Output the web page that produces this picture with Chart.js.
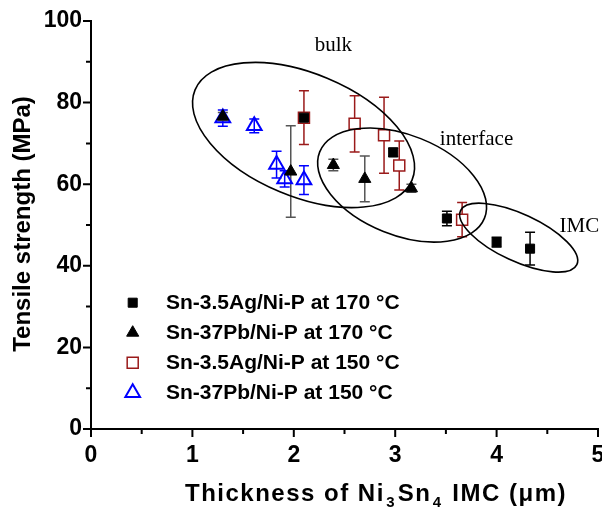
<!DOCTYPE html>
<html>
<head>
<meta charset="utf-8">
<script src="https://cdn.jsdelivr.net/npm/chart.js@4.4.0/dist/chart.umd.min.js"></script>
<style>
  html, body { margin: 0; padding: 0; background: #fff; }
  #wrap { width: 602px; height: 510px; }
</style>
</head>
<body>
<div id="wrap"><canvas id="c" width="602" height="510"></canvas></div>
<script>
// Sn-3.5Ag/Ni-P at 170 C
var ag170X   = [2.10, 2.98, 3.51, 4.00, 4.33];
var ag170Y   = [76.3, 67.8, 51.6, 45.8, 44.2];
var ag170Err = [1.0, 1.0, 1.8, 1.2, 4.0];

// Sn-37Pb/Ni-P at 170 C
var pb170X   = [1.30, 1.97, 2.39, 2.70, 3.16];
var pb170Y   = [76.6, 63.1, 64.7, 61.3, 59.0];
var pb170Err = [1.0, 11.2, 1.4, 5.6, 1.0];

// Sn-3.5Ag/Ni-P at 150 C
var ag150X   = [2.10, 2.60, 2.89, 3.04, 3.66];
var ag150Y   = [76.3, 74.8, 72.0, 64.6, 51.3];
var ag150Err = [6.6, 6.9, 9.3, 6.0, 4.2];

// Sn-37Pb/Ni-P at 150 C
var pb150X   = [1.30, 1.61, 1.83, 1.91, 2.10];
var pb150Y   = [76.2, 74.3, 64.8, 61.3, 61.0];
var pb150Err = [2.0, 1.7, 3.3, 2.0, 3.5];

var seriesNames = [
  'Sn-3.5Ag/Ni-P at 170 \u00B0C',
  'Sn-37Pb/Ni-P at 170 \u00B0C',
  'Sn-3.5Ag/Ni-P at 150 \u00B0C',
  'Sn-37Pb/Ni-P at 150 \u00B0C'
];

var xTicks = [0, 1, 2, 3, 4, 5];
var yTicks = [0, 20, 40, 60, 80, 100];

// region ellipses (center in data units, radii in px, tilt in degrees)
var regionNames = ['bulk', 'interface', 'IMC'];
var regionCx = [2.096, 3.068, 4.218];
var regionCy = [72.06, 59.8, 46.9];
var regionRa = [117.5, 88.8, 64.1];
var regionRb = [61.5, 50.0, 23.6];
var regionTilt = [22.6, 21.9, 24.9];
var labelX = [2.39, 3.44, 4.62];
var labelY = [92.6, 69.6, 48.3];
var labelAlign = ['center', 'left', 'left'];

function pts(xs, ys) {
  return xs.map(function(x, i) { return { x: x, y: ys[i] }; });
}

var DARKRED = '#9a1a1a';
var BLUE = '#0000ff';

// little marker drawer, used for the legend
function marker(ctx, ds, x, y) {
  var r = ds.pointRadius;
  ctx.save();
  ctx.beginPath();
  if (ds.pointStyle === 'rect') {
    var h = r * Math.SQRT1_2;
    ctx.rect(x - h, y - h, 2 * h, 2 * h);
  } else {
    ctx.moveTo(x, y - r);
    ctx.lineTo(x + r * Math.sin(Math.PI / 3), y + r / 2);
    ctx.lineTo(x - r * Math.sin(Math.PI / 3), y + r / 2);
    ctx.closePath();
  }
  ctx.fillStyle = ds.pointBackgroundColor;
  ctx.fill();
  ctx.lineWidth = ds.pointBorderWidth;
  ctx.strokeStyle = ds.pointBorderColor;
  ctx.stroke();
  ctx.restore();
}

var decorPlugin = {
  id: 'decor',
  beforeDatasetsDraw: function(chart) {
    var ctx = chart.ctx, xs = chart.scales.x, ys = chart.scales.y;
    for (var d = chart.data.datasets.length - 1; d >= 0; d--) {
      var ds = chart.data.datasets[d];
      ctx.save();
      ctx.strokeStyle = ds.errColor;
      ctx.lineWidth = 1.5;
      ds.data.forEach(function(p, i) {
        var px = xs.getPixelForValue(p.x);
        var t = ys.getPixelForValue(p.y + ds.err[i]);
        var b = ys.getPixelForValue(p.y - ds.err[i]);
        ctx.beginPath();
        ctx.moveTo(px, t); ctx.lineTo(px, b);
        ctx.moveTo(px - 5, t); ctx.lineTo(px + 5, t);
        ctx.moveTo(px - 5, b); ctx.lineTo(px + 5, b);
        ctx.stroke();
      });
      ctx.restore();
    }
  },
  afterDraw: function(chart) {
    var ctx = chart.ctx, xs = chart.scales.x, ys = chart.scales.y;
    var ca = chart.chartArea;
    ctx.save();

    // ticks (major + minor), outside
    ctx.strokeStyle = '#000';
    ctx.lineWidth = 2;
    ctx.beginPath();
    for (var v = 0; v <= 5.001; v += 0.5) {
      var px = xs.getPixelForValue(v);
      var len = Math.abs(v - Math.round(v)) < 0.01 ? 8 : 5;
      ctx.moveTo(px, ca.bottom); ctx.lineTo(px, ca.bottom + len);
    }
    for (var w = 0; w <= 100.1; w += 10) {
      var py = ys.getPixelForValue(w);
      var l2 = (w % 20 === 0) ? 8 : 5;
      ctx.moveTo(ca.left, py); ctx.lineTo(ca.left - l2, py);
    }
    ctx.stroke();

    // region ellipses
    ctx.lineWidth = 1.6;
    for (var k = 0; k < regionNames.length; k++) {
      ctx.beginPath();
      ctx.ellipse(xs.getPixelForValue(regionCx[k]), ys.getPixelForValue(regionCy[k]),
        regionRa[k], regionRb[k], regionTilt[k] * Math.PI / 180, 0, 2 * Math.PI);
      ctx.stroke();
      ctx.font = '21px "Liberation Serif", "Times New Roman", serif';
      ctx.fillStyle = '#000';
      ctx.textAlign = labelAlign[k];
      ctx.textBaseline = 'alphabetic';
      ctx.fillText(regionNames[k], xs.getPixelForValue(labelX[k]), ys.getPixelForValue(labelY[k]));
    }

    // legend
    ctx.font = 'bold 21px "Liberation Sans", Arial, sans-serif';
    ctx.textAlign = 'left';
    ctx.textBaseline = 'middle';
    chart.data.datasets.forEach(function(ds, i) {
      var ly = 302.7 + i * 30;
      marker(ctx, ds, 132.7, ly);
      ctx.fillStyle = '#000';
      ctx.fillText(ds.label, 166, ly + 1);
    });

    // y title
    ctx.save();
    ctx.translate(23, 224);
    ctx.rotate(-Math.PI / 2);
    ctx.font = 'bold 24px "Liberation Sans", Arial, sans-serif';
    ctx.textAlign = 'center';
    ctx.textBaseline = 'middle';
    ctx.fillText('Tensile strength (MPa)', 0, 0);
    ctx.restore();

    // x title with subscripts
    var parts = [['Thickness of Ni', 0], ['3', 1], ['Sn', 0], ['4', 1], [' IMC (\u03BCm)', 0]];
    var big = 'bold 24px "Liberation Sans", Arial, sans-serif';
    var small = 'bold 15px "Liberation Sans", Arial, sans-serif';
    ctx.letterSpacing = '1.5px';
    var total = 0;
    parts.forEach(function(p) { ctx.font = p[1] ? small : big; total += ctx.measureText(p[0]).width + (p[1] ? 3 : 0); });
    var cx = 376 - total / 2, base = 501;
    ctx.textAlign = 'left';
    ctx.textBaseline = 'alphabetic';
    parts.forEach(function(p) {
      ctx.font = p[1] ? small : big;
      if (p[1]) cx += 1.5;
      ctx.fillText(p[0], cx, p[1] ? base + 6 : base);
      cx += ctx.measureText(p[0]).width + (p[1] ? 1.5 : 0);
    });
    ctx.letterSpacing = '0px';
    ctx.restore();
  }
};

var datasets = [
  { label: seriesNames[0], data: pts(ag170X, ag170Y), err: ag170Err, errColor: '#000',
    pointStyle: 'rect', pointRadius: 6.4, pointBackgroundColor: '#000', pointBorderColor: '#000', pointBorderWidth: 1 },
  { label: seriesNames[1], data: pts(pb170X, pb170Y), err: pb170Err, errColor: '#555',
    pointStyle: 'triangle', pointRadius: 7, pointBackgroundColor: '#000', pointBorderColor: '#000', pointBorderWidth: 1 },
  { label: seriesNames[2], data: pts(ag150X, ag150Y), err: ag150Err, errColor: DARKRED,
    pointStyle: 'rect', pointRadius: 7.8, pointBackgroundColor: '#fff', pointBorderColor: DARKRED, pointBorderWidth: 1.5 },
  { label: seriesNames[3], data: pts(pb150X, pb150Y), err: pb150Err, errColor: BLUE,
    pointStyle: 'triangle', pointRadius: 8.5, pointBackgroundColor: 'rgba(0,0,0,0)', pointBorderColor: BLUE, pointBorderWidth: 2 }
];
datasets.forEach(function(ds) { ds.pointHoverRadius = ds.pointRadius; ds.showLine = false; });

var tickFont = { family: '"Liberation Sans", Arial, sans-serif', size: 23, weight: 'bold' };

new Chart(document.getElementById('c'), {
  type: 'scatter',
  data: { datasets: datasets },
  plugins: [decorPlugin],
  options: {
    responsive: false,
    animation: false,
    devicePixelRatio: 1,
    layout: { autoPadding: false, padding: { top: 21, right: 4, left: 0, bottom: 0 } },
    plugins: { legend: { display: false }, tooltip: { enabled: false } },
    scales: {
      x: {
        type: 'linear', min: 0, max: 5,
        afterBuildTicks: function(s) { s.ticks = xTicks.map(function(v) { return { value: v }; }); },
        ticks: { font: tickFont, color: '#000', padding: 13, maxRotation: 0 },
        grid: { display: false, drawTicks: false },
        border: { display: true, color: '#000', width: 2 },
        afterFit: function(s) { s.height = 81; s.paddingLeft = 0; s.paddingRight = 0; }
      },
      y: {
        type: 'linear', min: 0, max: 100,
        afterBuildTicks: function(s) { s.ticks = yTicks.map(function(v) { return { value: v }; }); },
        ticks: { font: tickFont, color: '#000', padding: 9 },
        grid: { display: false, drawTicks: false },
        border: { display: true, color: '#000', width: 2 },
        afterFit: function(s) { s.width = 91; s.paddingTop = 0; s.paddingBottom = 0; }
      }
    }
  }
});
</script>
</body>
</html>
